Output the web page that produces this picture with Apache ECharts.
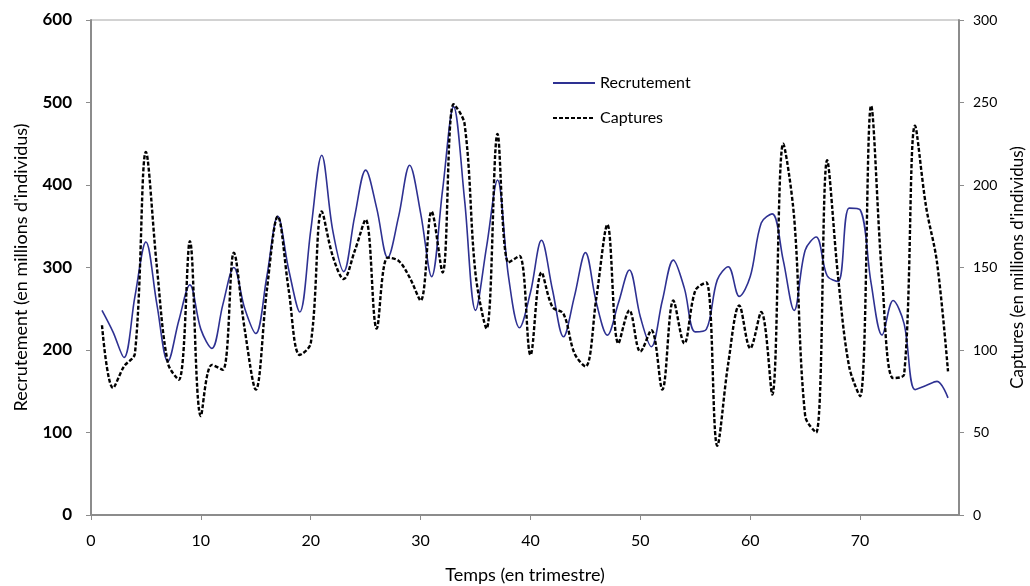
<!DOCTYPE html>
<html>
<head>
<meta charset="utf-8">
<script src="https://cdn.jsdelivr.net/npm/echarts@6/dist/echarts.min.js"></script>
<style>
html,body{margin:0;padding:0;background:#fff;}
#chart{width:1030px;height:586px;}
</style>
</head>
<body>
<div id="chart"></div>
<script>
// Time in quarters
const temps = [1,2,3,4,5,6,7,8,9,10,11,12,13,14,15,16,17,18,19,20,21,22,23,24,25,26,27,28,29,30,31,32,33,34,35,36,37,38,39,40,41,42,43,44,45,46,47,48,49,50,51,52,53,54,55,56,57,58,59,60,61,62,63,64,65,66,67,68,69,70,71,72,73,74,75,76,77,78];
// Recrutement (left axis, millions)
const recrutement = [248,222,191,265,331,255,186,236,279,225,202,255,300,250,220,289,362,297,246,345,436,345,295,362,418,372,312,362,424,366,289,394,495,382,248,325,406,289,227,270,333,273,216,265,318,257,218,257,297,240,204,260,309,275,222,225,285,301,265,289,354,365,309,248,321,337,290,283,372,370,281,218,260,232,152,157,162,142];
// Captures (right axis, millions)
const captures = [115,77,90,98,220,150,92,82,166,60,91,88,159,112,76,136,181,136,97,104,184,157,143,160,179,113,156,154,144,130,184,147,249,237,146,113,231,153,157,97,147,126,122,98,90,132,176,104,124,99,112,76,130,104,136,141,42,92,127,101,123,73,225,180,60,50,215,144,90,72,248,144,83,85,236,187,153,87];

const seriesNames = ['Recrutement','Captures'];
const xTitle = 'Temps (en trimestre)';
const yLeftTitle = "Recrutement (en millions d'individus)";
const yRightTitle = "Captures (en millions d'individus)";

const FONT = 'Lato';
const chart = echarts.init(document.getElementById('chart'));
const axisLineStyle = {color:'#8c8c8c', width:2};
chart.setOption({
  animation:false,
  textStyle:{fontFamily:FONT},
  grid:{left:91,right:71,top:20,bottom:71,show:true,borderColor:'#a6a6a6',borderWidth:1,
        containLabel:false, outerBoundsMode:'none'},
  legend:{
    orient:'vertical', left:547, top:70, itemWidth:42, itemHeight:14, itemGap:19,
    textStyle:{fontFamily:FONT,fontSize:16,color:'#000'},
    itemStyle:{opacity:0},
    data:seriesNames
  },
  xAxis:{
    type:'value', min:0, max:79, interval:10,
    name:xTitle, nameLocation:'middle', nameGap:51,
    nameTextStyle:{fontFamily:FONT,fontSize:18,color:'#000'},
    axisLine:{show:true,lineStyle:axisLineStyle},
    axisTick:{show:true,inside:false,length:5,lineStyle:{color:'#8c8c8c'}},
    axisLabel:{show:true,fontSize:16,color:'#000',margin:18,showMaxLabel:false,
      formatter:v=> (v%10===0? String(v):'')},
    splitLine:{show:false}
  },
  yAxis:[{
    type:'value', min:0, max:600, interval:100, position:'left',
    name:yLeftTitle, nameLocation:'middle', nameGap:61, nameRotate:90,
    nameTextStyle:{fontFamily:FONT,fontSize:18,color:'#000'},
    axisLine:{show:true,lineStyle:axisLineStyle},
    axisTick:{show:true,length:5,lineStyle:{color:'#8c8c8c'}},
    axisLabel:{fontSize:17,color:'#000',margin:19,fontWeight:'bold'},
    splitLine:{show:false}
  },{
    type:'value', min:0, max:300, interval:50, position:'right',
    name:yRightTitle, nameLocation:'middle', nameGap:50, nameRotate:90,
    nameTextStyle:{fontFamily:FONT,fontSize:17,color:'#000'},
    axisLine:{show:true,lineStyle:axisLineStyle},
    axisTick:{show:true,length:5,lineStyle:{color:'#8c8c8c'}},
    axisLabel:{fontSize:14,color:'#000',margin:14},
    splitLine:{show:false}
  }],
  series:[{
    name:seriesNames[0], type:'line', yAxisIndex:0, smooth:0.35, symbol:'none',
    data:temps.map((t,i)=>[t,recrutement[i]]),
    lineStyle:{color:'#2e3192',width:1.6}, itemStyle:{color:'#2e3192'}
  },{
    name:seriesNames[1], type:'line', yAxisIndex:1, smooth:0.35, symbol:'none',
    data:temps.map((t,i)=>[t,captures[i]]),
    lineStyle:{color:'#000',width:2.4,type:[4,2]}, itemStyle:{color:'#000'}
  }]
});
</script>
</body>
</html>
